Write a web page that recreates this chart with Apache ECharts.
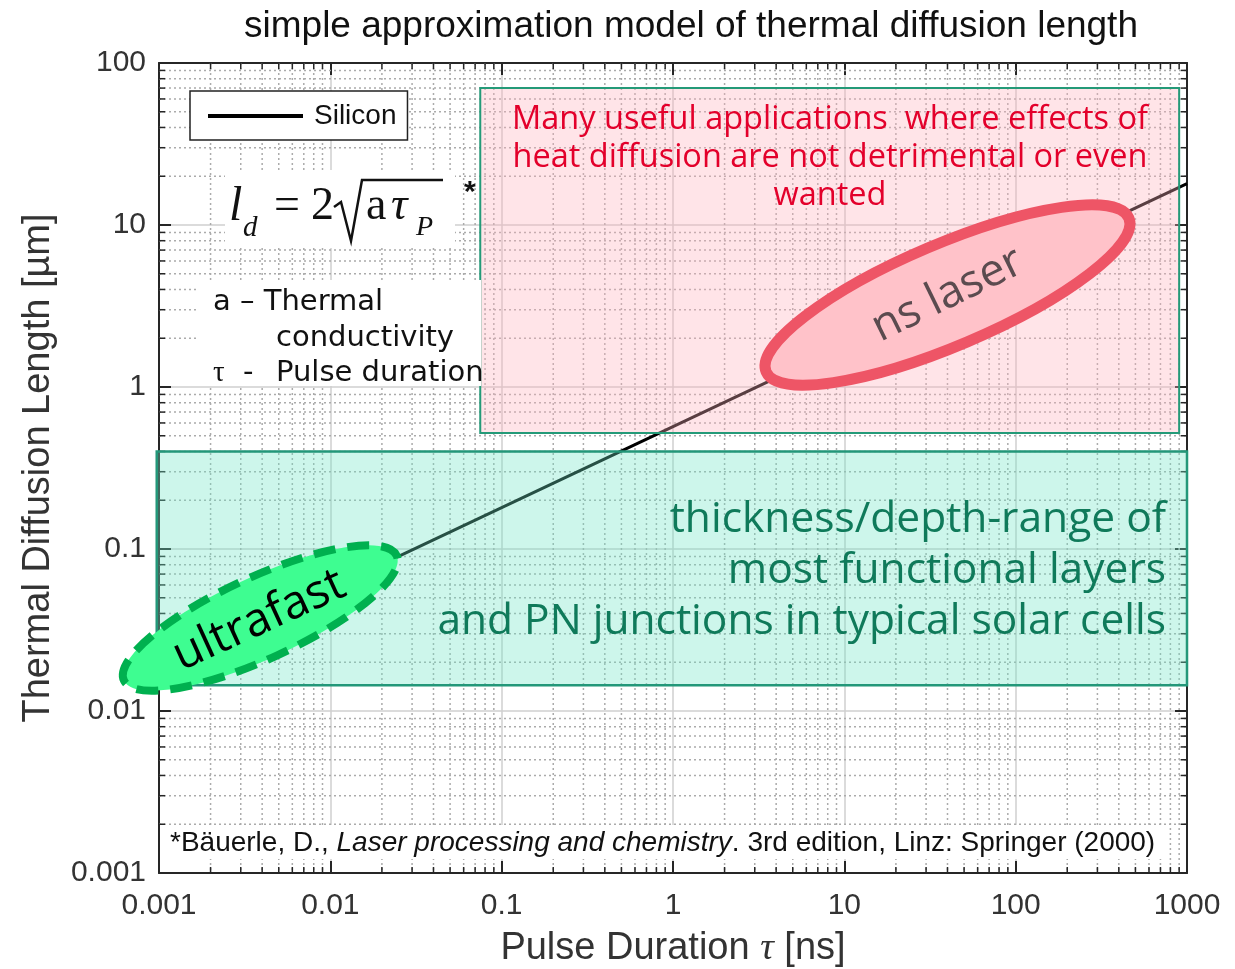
<!DOCTYPE html>
<html>
<head>
<meta charset="utf-8">
<script src="https://cdn.jsdelivr.net/npm/echarts@6/dist/echarts.min.js"></script>
<style>
  html, body { margin: 0; padding: 0; background: #ffffff; }
  #chart { width: 1235px; height: 969px; }
</style>
</head>
<body>
<div id="chart"></div>
<script>
// Thermal diffusion length of silicon vs. pulse duration (log-log)
const pulseDuration = [0.001, 0.01, 0.1, 1, 10, 100, 1000];      // ns
const siliconLength = [0.018, 0.057, 0.18, 0.57, 1.8, 5.7, 18];  // µm
const xTickLabels = ['0.001', '0.01', '0.1', '1', '10', '100', '1000'];
const yTickLabels = ['0.001', '0.01', '0.1', '1', '10', '100'];

// Shaded regions: [tau from, tau to, length from, length to]
const regionLaserUse = [0.075, 900, 0.52, 70];
const regionLayers = [0.00097, 1000, 0.0144, 0.40];

// Ellipse annotation centres: [tau, length]
const ultrafastCentre = [0.0039, 0.0375];
const nsLaserCentre = [40, 3.7];

// Minor decade subdivisions 2..9 for the dotted grid
const xMinor = [], yMinor = [];
for (let d = -3; d <= 2; d++) for (let m = 2; m <= 9; m++) xMinor.push([m * Math.pow(10, d), 1, 0]);
for (let d = -3; d <= 1; d++) for (let m = 2; m <= 9; m++) yMinor.push([1, m * Math.pow(10, d), 1]);

const chart = echarts.init(document.getElementById('chart'), null, { renderer: 'canvas' });

const AXIS_COLOR = '#262626';
const SANS = '"Liberation Sans", Arial, sans-serif';
const deg = Math.PI / 180;

function labelFor(list) {
  return v => {
    const i = Math.round(Math.log10(v)) - Math.round(Math.log10(parseFloat(list[0])));
    return list[i] !== undefined ? list[i] : '';
  };
}

const baseX = {
  type: 'log', logBase: 10, min: 0.001, max: 1000, splitNumber: 6,
  axisLine: { show: true, lineStyle: { color: AXIS_COLOR, width: 2 } },
  axisTick: { show: true, inside: true, length: 12, lineStyle: { color: AXIS_COLOR, width: 2 } }
};
const baseY = {
  type: 'log', logBase: 10, min: 0.001, max: 100, splitNumber: 5,
  axisLine: { show: true, lineStyle: { color: AXIS_COLOR, width: 2 } },
  axisTick: { show: true, inside: true, length: 12, lineStyle: { color: AXIS_COLOR, width: 2 } }
};

const boxStyles = [
  { fill: 'rgba(255,178,190,0.35)', stroke: '#249a78', lineWidth: 2 },
  { fill: 'rgba(111,229,197,0.35)', stroke: '#239779', lineWidth: 2.5 }
];

const option = {
  backgroundColor: '#ffffff',
  animation: false,
  title: {
    text: 'simple approximation model of thermal diffusion length',
    left: 686, top: 3, textAlign: 'center',
    textStyle: { fontFamily: SANS, fontSize: 37, fontWeight: 'normal', color: '#111' }
  },
  grid: { left: 159, right: 48, top: 63, bottom: 96, containLabel: false, outerBoundsMode: 'none' },
  legend: {
    show: true, left: 190, top: 91, orient: 'horizontal',
    backgroundColor: '#ffffff', borderColor: '#222', borderWidth: 1.5, borderRadius: 0,
    padding: [11, 11, 10, 18], itemWidth: 95, itemHeight: 4, z: 10,
    data: [{ name: 'Silicon', icon: 'rect', itemStyle: { color: '#000' } }],
    textStyle: { fontFamily: SANS, fontSize: 28, color: '#111', padding: [0, 0, 0, 6] }
  },
  xAxis: [
    Object.assign({}, baseX, {
      position: 'bottom',
      axisLabel: { show: true, color: '#333', fontSize: 30, fontFamily: SANS, margin: 18, formatter: labelFor(xTickLabels) },
      splitLine: { show: true, lineStyle: { color: '#cfcfcf', width: 1.5 } },
      name: '{n|Pulse Duration }{t|τ}{n| [ns]}',
      nameLocation: 'middle', nameGap: 57,
      nameTextStyle: {
        rich: {
          n: { fontFamily: SANS, fontSize: 38, color: '#333' },
          t: { fontFamily: '"Liberation Serif", serif', fontStyle: 'italic', fontSize: 38, color: '#333' }
        }
      }
    }),
    Object.assign({}, baseX, {
      position: 'top',
      axisLabel: { show: false }, splitLine: { show: false }
    })
  ],
  yAxis: [
    Object.assign({}, baseY, {
      position: 'left',
      axisLabel: { show: true, color: '#333', fontSize: 30, fontFamily: SANS, margin: 13, formatter: labelFor(yTickLabels) },
      splitLine: { show: true, lineStyle: { color: '#cfcfcf', width: 1.5 } },
      name: 'Thermal Diffusion Length [µm]',
      nameLocation: 'middle', nameGap: 101, nameRotate: 90,
      nameTextStyle: { fontFamily: SANS, fontSize: 38, color: '#333' }
    }),
    Object.assign({}, baseY, {
      position: 'right',
      axisLabel: { show: false }, splitLine: { show: false }
    })
  ],
  series: [
    {
      // dotted minor grid with inward minor ticks on all four sides
      type: 'custom', name: 'minor', z: 1, silent: true,
      xAxisIndex: 0, yAxisIndex: 0,
      data: xMinor.concat(yMinor),
      encode: { x: 0, y: 1 },
      renderItem: function (params, api) {
        const cs = params.coordSys;
        const p = api.coord([api.value(0), api.value(1)]);
        const dotted = { stroke: '#ababab', lineWidth: 1.5, lineDash: [2, 3] };
        const tick = { stroke: AXIS_COLOR, lineWidth: 1.5 };
        if (api.value(2) === 0) {
          const x = p[0], y0 = cs.y, y1 = cs.y + cs.height;
          return { type: 'group', children: [
            { type: 'line', shape: { x1: x, y1: y0, x2: x, y2: y1 }, style: dotted },
            { type: 'line', shape: { x1: x, y1: y1, x2: x, y2: y1 - 6 }, style: tick },
            { type: 'line', shape: { x1: x, y1: y0, x2: x, y2: y0 + 6 }, style: tick }
          ] };
        }
        const y = p[1], x0 = cs.x, x1 = cs.x + cs.width;
        return { type: 'group', children: [
          { type: 'line', shape: { x1: x0, y1: y, x2: x1, y2: y }, style: dotted },
          { type: 'line', shape: { x1: x0, y1: y, x2: x0 + 6, y2: y }, style: tick },
          { type: 'line', shape: { x1: x1, y1: y, x2: x1 - 6, y2: y }, style: tick }
        ] };
      }
    },
    {
      name: 'Silicon', type: 'line', z: 3,
      xAxisIndex: 0, yAxisIndex: 0,
      data: pulseDuration.map((t, i) => [t, siliconLength[i]]),
      symbol: 'none', smooth: false,
      lineStyle: { color: '#000', width: 3 },
      itemStyle: { color: '#000' }
    },
    {
      // translucent shaded regions
      type: 'custom', name: 'regions', z: 4, silent: true, clip: false,
      xAxisIndex: 0, yAxisIndex: 0,
      data: [regionLaserUse, regionLayers],
      encode: { x: [0, 1], y: [2, 3] },
      renderItem: function (params, api) {
        const p0 = api.coord([api.value(0), api.value(3)]);
        const p1 = api.coord([api.value(1), api.value(2)]);
        return {
          type: 'rect',
          shape: { x: p0[0], y: p0[1], width: p1[0] - p0[0], height: p1[1] - p0[1] },
          style: boxStyles[params.dataIndex]
        };
      }
    },
    {
      type: 'custom', name: 'ultrafast', z: 6, silent: true, clip: false,
      xAxisIndex: 0, yAxisIndex: 0,
      data: [ultrafastCentre],
      renderItem: function (params, api) {
        const p = api.coord([api.value(0), api.value(1)]);
        return { type: 'group', x: p[0], y: p[1], rotation: 24.6 * deg, children: [
          { type: 'ellipse', shape: { cx: 0, cy: 0, rx: 150, ry: 41 },
            style: { fill: '#3efd91', stroke: '#00b04f', lineWidth: 8, lineDash: [22, 12] } },
          { type: 'text', x: -2, y: 2,
            style: { text: 'ultrafast', fontFamily: '"Open Sans", "Noto Sans", sans-serif', fontSize: 47,
              fill: '#000', align: 'center', verticalAlign: 'middle' } }
        ] };
      }
    },
    {
      type: 'custom', name: 'nsLaser', z: 6, silent: true, clip: false,
      xAxisIndex: 0, yAxisIndex: 0,
      data: [nsLaserCentre],
      renderItem: function (params, api) {
        const p = api.coord([api.value(0), api.value(1)]);
        return { type: 'group', x: p[0], y: p[1], rotation: 23 * deg, children: [
          { type: 'ellipse', shape: { cx: 0, cy: 0, rx: 197, ry: 51 },
            style: { fill: '#ffc2c9', stroke: '#ee5566', lineWidth: 11 } },
          { type: 'text', x: 0, y: 0, rotation: 3 * deg,
            style: { text: 'ns laser', fontFamily: '"Open Sans", "Noto Sans", sans-serif', fontSize: 45,
              fill: '#5b4b4f', align: 'center', verticalAlign: 'middle' } }
        ] };
      }
    }
  ],
  graphic: [
    // formula panel
    { type: 'rect', z: 8, shape: { x: 225, y: 170, width: 230, height: 78 }, style: { fill: '#ffffff' } },
    { type: 'text', z: 9, x: 229, y: 207, style: { text: 'l', font: 'italic 48px "Liberation Serif", serif', fill: '#111', verticalAlign: 'middle' } },
    { type: 'text', z: 9, x: 243, y: 228, style: { text: 'd', font: 'italic 29px "Liberation Serif", serif', fill: '#111', verticalAlign: 'middle' } },
    { type: 'text', z: 9, x: 274, y: 207, style: { text: '=', font: '46px "Liberation Serif", serif', fill: '#111', verticalAlign: 'middle' } },
    { type: 'text', z: 9, x: 311, y: 207, style: { text: '2', font: '46px "Liberation Serif", serif', fill: '#111', verticalAlign: 'middle' } },
    { type: 'polyline', z: 9, shape: { points: [[334, 207], [341, 202], [351, 241], [362, 180], [443, 180]] },
      style: { stroke: '#111', lineWidth: 2.5, fill: null } },
    { type: 'text', z: 9, x: 366, y: 207, style: { text: 'a', font: '46px "Liberation Serif", serif', fill: '#111', verticalAlign: 'middle' } },
    { type: 'text', z: 9, x: 391, y: 207, style: { text: 'τ', font: 'italic 46px "Liberation Serif", serif', fill: '#111', verticalAlign: 'middle' } },
    { type: 'text', z: 9, x: 416, y: 228, style: { text: 'P', font: 'italic 28px "Liberation Serif", serif', fill: '#111', verticalAlign: 'middle' } },
    { type: 'text', z: 9, x: 464, y: 193, style: { text: '*', font: 'bold 30px "Liberation Sans", sans-serif', fill: '#111', verticalAlign: 'middle' } },

    // symbol explanation panel
    { type: 'rect', z: 8, shape: { x: 197, y: 280, width: 284, height: 106 }, style: { fill: '#ffffff' } },
    { type: 'text', z: 9, x: 213, y: 302, style: { text: 'a – Thermal', font: '29px "DejaVu Sans", sans-serif', fill: '#111', verticalAlign: 'middle' } },
    { type: 'text', z: 9, x: 276, y: 338, style: { text: 'conductivity', font: '29px "DejaVu Sans", sans-serif', fill: '#111', verticalAlign: 'middle' } },
    { type: 'text', z: 9, x: 213, y: 373, style: { text: 'τ', font: '29px "Liberation Serif", serif', fill: '#111', verticalAlign: 'middle' } },
    { type: 'text', z: 9, x: 243, y: 373, style: { text: '-', font: '29px "DejaVu Sans", sans-serif', fill: '#111', verticalAlign: 'middle' } },
    { type: 'text', z: 9, x: 276, y: 373, style: { text: 'Pulse duration', font: '29px "DejaVu Sans", sans-serif', fill: '#111', verticalAlign: 'middle' } },

    // region captions
    { type: 'text', z: 9, x: 830, y: 158,
      style: { text: 'Many useful applications  where effects of\nheat diffusion are not detrimental or even\nwanted',
        font: '32.5px "Open Sans", "Noto Sans", sans-serif', lineHeight: 38, fill: '#e3002b', align: 'center', verticalAlign: 'middle' } },
    { type: 'text', z: 9, x: 1166, y: 571,
      style: { text: 'thickness/depth-range of\nmost functional layers\nand PN junctions in typical solar cells',
        font: '42.5px "Open Sans", "Noto Sans", sans-serif', lineHeight: 51, fill: '#0f7a5a', align: 'right', verticalAlign: 'middle' } },

    // reference footnote
    { type: 'rect', z: 8, shape: { x: 166, y: 825, width: 996, height: 34 }, style: { fill: '#ffffff' } },
    { type: 'text', z: 9, x: 170, y: 843,
      style: { text: '{n|*Bäuerle, D., }{i|Laser processing and chemistry}{n|. 3rd edition, Linz: Springer (2000)}',
        verticalAlign: 'middle',
        rich: {
          n: { fontFamily: SANS, fontSize: 28, fill: '#111' },
          i: { fontFamily: SANS, fontSize: 28, fontStyle: 'italic', fill: '#111' }
        } } }
  ]
};

chart.setOption(option);
</script>
</body>
</html>
